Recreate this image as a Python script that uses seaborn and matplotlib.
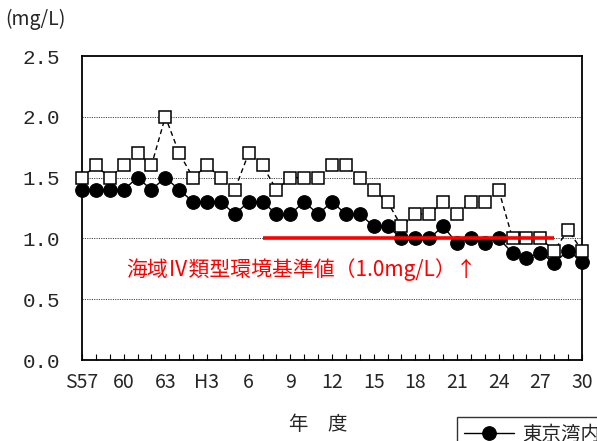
import matplotlib
matplotlib.use("Agg")
import matplotlib.pyplot as plt
import seaborn as sns
import pandas as pd
import numpy as np

# ---- data ----
years = list(range(1982, 2019))  # S57 .. H30
series_a_label = "東京湾内湾"
series_a = [1.4, 1.4, 1.4, 1.4, 1.5, 1.4, 1.5, 1.4, 1.3, 1.3, 1.3, 1.2, 1.3,
            1.3, 1.2, 1.2, 1.3, 1.2, 1.3, 1.2, 1.2, 1.1, 1.1, 1.0, 1.0, 1.0,
            1.1, 0.96, 1.0, 0.96, 1.0, 0.88, 0.84, 0.88, 0.80, 0.90, 0.81]
series_b_label = "東京湾湾奥部"
series_b = [1.5, 1.6, 1.5, 1.6, 1.7, 1.6, 2.0, 1.7, 1.5, 1.6, 1.5, 1.4, 1.7,
            1.6, 1.4, 1.5, 1.5, 1.5, 1.6, 1.6, 1.5, 1.4, 1.3, 1.1, 1.2, 1.2,
            1.3, 1.2, 1.3, 1.3, 1.4, 1.0, 1.0, 1.0, 0.9, 1.07, 0.9]
x_tick_years = [1982, 1985, 1988, 1991, 1994, 1997, 2000, 2003, 2006, 2009, 2012, 2015, 2018]
x_tick_labels = ["S57", "60", "63", "H3", "6", "9", "12", "15", "18", "21", "24", "27", "30"]
y_ticks = [0.0, 0.5, 1.0, 1.5, 2.0, 2.5]
standard_value = 1.0
standard_from, standard_to = 1995, 2016
standard_text = "海域Ⅳ類型環境基準値（1.0mg/L）↑"
unit_text = "(mg/L)"
x_label = "年　度"

sns.set_style("white")
plt.rcParams["font.family"] = ["Noto Sans CJK JP", "DejaVu Sans"]

df = pd.DataFrame({"idx": np.arange(len(years)), "a": series_a, "b": series_b})

fig = plt.figure(figsize=(5.97, 4.41), dpi=100)
ax = fig.add_axes([82 / 597, 1 - 360 / 441, 500 / 597, 304 / 441])

sns.lineplot(data=df, x="idx", y="a", ax=ax, color="black", linewidth=1.0,
             marker="o", markersize=9.8, markerfacecolor="black",
             markeredgecolor="black", markeredgewidth=0.8, clip_on=False,
             zorder=3, label=series_a_label, legend=False)
sns.lineplot(data=df, x="idx", y="b", ax=ax, color="black", linewidth=1.0,
             linestyle=(0, (3.5, 2.5)), marker="s", markersize=8.6,
             markerfacecolor="white", markeredgecolor="black",
             markeredgewidth=1.1, clip_on=False, zorder=4,
             label=series_b_label, legend=False)

ax.hlines(standard_value, standard_from - years[0], standard_to - years[0],
          color="#ff0000", linewidth=2.6, zorder=5)
ax.text(44 / 500, 90 / 304, standard_text, transform=ax.transAxes,
        color="#ff0000", fontsize=15, va="center", ha="left", zorder=6)

ax.set_xlim(0, len(years) - 1)
ax.set_ylim(0, 2.5)
ax.set_xticks([y - years[0] for y in x_tick_years])
ax.set_xticklabels(x_tick_labels, fontsize=14)
ax.set_xticks(np.arange(len(years)), minor=True)
ax.set_yticks(y_ticks)
ax.set_yticklabels([f"{v:.1f}" for v in y_ticks], fontsize=15,
                   family=["Liberation Mono"])
ax.tick_params(axis="x", which="both", direction="in", length=4, width=0.8,
               bottom=True, pad=9, color="black")
ax.tick_params(axis="y", direction="in", length=0, pad=16, left=True)
for lab in ax.get_yticklabels():
    lab.set_horizontalalignment("right")

for v in y_ticks[1:-1]:
    ax.axhline(v, color="#444444", linewidth=0.7, linestyle=(0, (1.2, 1.2)), zorder=1)

for s in ax.spines.values():
    s.set_visible(True)
    s.set_color("black")
    s.set_linewidth(1.3)

ax.set_xlabel("")
ax.set_ylabel("")

fig.text(5 / 597, 1 - 19 / 441, unit_text, fontsize=14, va="center", ha="left")
fig.text(318 / 597, 1 - 425 / 441, x_label, fontsize=14, va="center", ha="center")

handles, labels = ax.get_legend_handles_labels()
leg = fig.legend(handles, labels, loc="upper left",
                 bbox_to_anchor=(457 / 597, 1 - 417 / 441),
                 frameon=True, fancybox=False, edgecolor="black",
                 fontsize=14, handlelength=2.6, borderpad=0.35,
                 handletextpad=0.4, borderaxespad=0)
leg.get_frame().set_linewidth(1.0)

fig.savefig("out.png", dpi=100)
